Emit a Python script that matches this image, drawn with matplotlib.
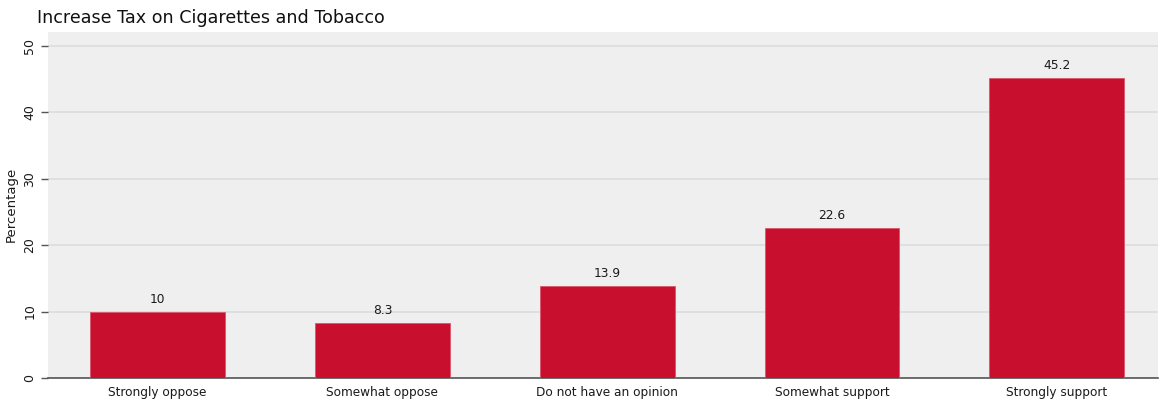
import numpy as np
import matplotlib
matplotlib.use("Agg")
import matplotlib.pyplot as plt

# data
categories = ["Strongly oppose", "Somewhat oppose", "Do not have an opinion",
              "Somewhat support", "Strongly support"]
percentages = [10, 8.3, 13.9, 22.6, 45.2]
value_labels = ["10", "8.3", "13.9", "22.6", "45.2"]
yticks = [0, 10, 20, 30, 40, 50]

plt.rcParams['font.family'] = ['DejaVu Sans']

fig = plt.figure(figsize=(11.59, 4.05), dpi=100)
ax = fig.add_axes([0.041, 0.0667, 0.958, 0.855])

x = np.arange(len(categories))
ax.set_facecolor('#efefef')
ax.bar(x, percentages, width=0.6, color='#c8102e', edgecolor='#d9566b',
       linewidth=0.6, zorder=3)

# value labels on top of bars
for xi, v, lab in zip(x, percentages, value_labels):
    ax.annotate(lab, (xi, v), xytext=(0, 4), textcoords='offset points',
                ha='center', va='bottom', fontsize=8.8, color='#1a1a1a')

ax.set_xlim(-0.49, 4.45)
ax.set_ylim(0, 52.1)
ax.set_yticks(yticks)
ax.set_yticklabels([str(t) for t in yticks], rotation=90, va='center',
                   fontsize=9, color='#1a1a1a')
ax.set_xticks(x)
ax.set_xticklabels(categories, fontsize=8.7, color='#1a1a1a')
ax.tick_params(axis='x', length=0, pad=6)
ax.tick_params(axis='y', length=5, width=1, color='#555555', pad=3)
ax.yaxis.grid(True, color='#dedede', linewidth=1.3, zorder=0)
ax.set_axisbelow(True)

for s in ['top', 'right', 'left']:
    ax.spines[s].set_visible(False)
ax.spines['bottom'].set_color('#555555')
ax.spines['bottom'].set_linewidth(1.2)

ax.set_ylabel("Percentage", fontsize=9.5, color='#1a1a1a', labelpad=4)
fig.text(0.032, 0.955, "Increase Tax on Cigarettes and Tobacco",
         fontsize=12.6, color='#111111', ha='left', va='center')

fig.savefig("out.png", dpi=100)
